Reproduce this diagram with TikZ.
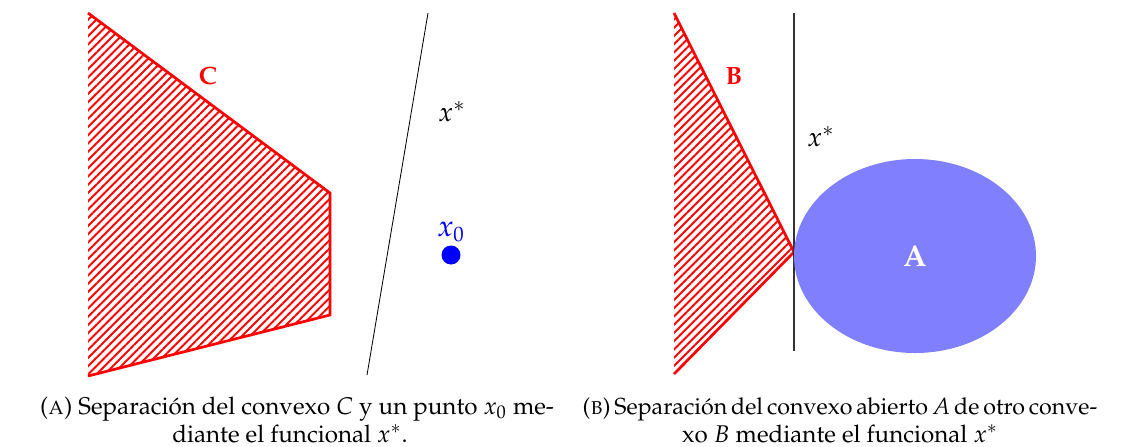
\documentclass[tikz,border=0pt]{standalone}
\usepackage[T1]{fontenc}
\usepackage{mathpazo}
\usepackage{graphicx}
\usetikzlibrary{patterns.meta}
\definecolor{ablue}{RGB}{128,128,255}
\tikzset{
  hatch/.style={pattern={Lines[angle=45,distance=2.8pt,line width=0.9pt]}, pattern color=red},
  redborder/.style={draw=red, line width=1.3pt},
  setlabel/.style={text=red, font=\large\bfseries},
  funclabel/.style={font=\fontsize{13}{15}\selectfont},
  capline/.style={font=\fontsize{11.6}{14}\selectfont, inner sep=0pt},
}
\begin{document}
\begin{tikzpicture}[x=0.48pt,y=-0.48pt]
\useasboundingbox (0,0) rectangle (1134,446);
% ---- left panel
\coordinate (c1) at (88,13);
\coordinate (c2) at (330,193);
\coordinate (c3) at (330,315);
\coordinate (c4) at (88,376);
\path[hatch] (c1) -- (c2) -- (c3) -- (c4) -- cycle;
\draw[redborder] (c1) -- (c2) -- (c3) -- (c4);
\node[setlabel] (C) at (208,76) {C};
\coordinate (l1) at (428,13);
\coordinate (l2) at (367,375);
\draw[black, line width=0.4pt] (l1) -- (l2);
\node[funclabel] (xs1) at (452,112) {$x^{*}$};
\fill[blue] (451,255) circle (9.5) coordinate (x0);
\node[text=blue, font=\Large] (x0l) at (451,232) {$x_0$};
% ---- right panel
\coordinate (b1) at (674,13);
\coordinate (b2) at (794,252);
\coordinate (b3) at (674,374);
\path[hatch] (b1) -- (b2) -- (b3) -- cycle;
\draw[redborder] (b1) -- (b2) -- (b3);
\node[setlabel] (B) at (734,76) {B};
\coordinate (v1) at (794,13);
\coordinate (v2) at (794,351);
\draw[black!80, line width=0.5pt] (v1) -- (v2);
\node[funclabel] (xs2) at (821,137) {$x^{*}$};
\fill[ablue] (915,256) ellipse (121 and 97);
\node[text=white, font=\Large\bfseries] (A) at (915,256) {A};
% ---- captions
\node[capline] (capA1) at (297,409) {(\textsc{a}) Separación del convexo $C$ y un punto $x_0$ me-};
\node[capline] (capA2) at (290,434) {diante el funcional $x^{*}$.};
\node[capline] (capB1) at (840,409) {\resizebox{247pt}{!}{(\textsc{b})\,Separación\,del\,convexo\,abierto\,$A$\,de\,otro\,conve-}};
\node[capline] (capB2) at (840,434) {xo $B$ mediante el funcional $x^{*}$};
\end{tikzpicture}
\end{document}
